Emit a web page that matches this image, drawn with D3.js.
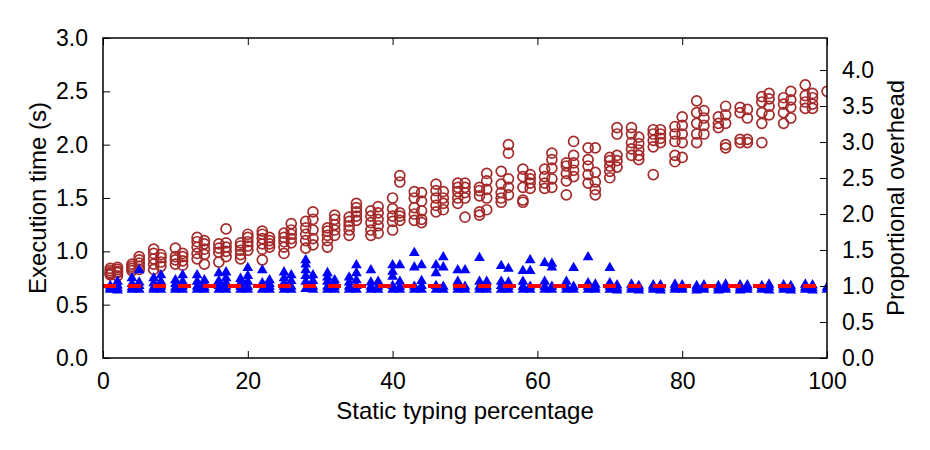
<!DOCTYPE html>
<html>
<head>
<meta charset="utf-8">
<script src="https://cdn.jsdelivr.net/npm/d3@7"></script>
<style>
  body { margin: 0; background: #fff; }
  text { font-family: "Liberation Sans", Arial, sans-serif; fill: #000; }
</style>
</head>
<body>
<div id="chart"></div>
<script>

//static typing percentages (one column of runs each)
var percents = [1,2,4,5,7,8,10,11,13,14,16,17,19,20,22,23,25,26,28,29,31,32,34,35,37,38,40,41,43,44,46,47,49,50,52,53,55,56,58,59,61,62,64,65,67,68,70,71,73,74,76,77,79,80,82,83,85,86,88,89,91,92,94,95,97,98,100];

//execution time (s), circles
var execTimes = [
  [0.78,0.80,0.82,0.84,0.79],
  [0.77,0.80,0.83,0.85,0.81],
  [0.82,0.84,0.86,0.88],
  [0.83,0.86,0.89,0.92,0.95],
  [0.83,0.88,0.93,0.98,1.02],
  [0.86,0.90,0.94,0.97],
  [0.88,0.92,0.95,1.03],
  [0.87,0.91,0.95,0.98],
  [0.93,0.98,1.04,1.09,1.13],
  [0.88,0.97,1.02,1.07,1.10],
  [0.90,0.99,1.03,1.07],
  [0.95,1.00,1.04,1.08,1.21],
  [0.93,0.97,1.01,1.05,1.08],
  [1.01,1.05,1.09,1.13,1.16],
  [0.92,1.02,1.07,1.12,1.16,1.19],
  [1.04,1.07,1.10,1.13],
  [0.98,1.04,1.09,1.13,1.17],
  [1.08,1.12,1.16,1.20,1.26],
  [1.03,1.10,1.16,1.22,1.28],
  [1.06,1.12,1.20,1.30,1.37],
  [1.04,1.10,1.15,1.19,1.22],
  [1.15,1.20,1.25,1.30,1.34],
  [1.15,1.20,1.24,1.28,1.32],
  [1.29,1.33,1.37,1.41,1.45],
  [1.15,1.20,1.27,1.33,1.38],
  [1.17,1.24,1.30,1.36,1.42],
  [1.20,1.28,1.33,1.40,1.50],
  [1.29,1.33,1.36,1.65,1.71],
  [1.29,1.35,1.41,1.50,1.56],
  [1.27,1.30,1.38,1.47,1.55],
  [1.37,1.43,1.50,1.57,1.63],
  [1.39,1.45,1.50,1.56],
  [1.45,1.50,1.56,1.60,1.64],
  [1.32,1.50,1.55,1.60,1.64],
  [1.34,1.37,1.52,1.57,1.60],
  [1.39,1.50,1.58,1.66,1.73],
  [1.46,1.50,1.55,1.63,1.75],
  [1.53,1.60,1.68,1.92,2.00],
  [1.46,1.48,1.60,1.70,1.77],
  [1.59,1.64,1.68,1.72],
  [1.59,1.64,1.70,1.77],
  [1.60,1.68,1.78,1.86,1.92],
  [1.53,1.66,1.73,1.80,1.83],
  [1.70,1.76,1.83,1.90,2.03],
  [1.64,1.72,1.80,1.86,1.97],
  [1.53,1.58,1.65,1.74,1.97],
  [1.69,1.75,1.80,1.85,1.88],
  [1.79,1.85,1.90,2.10,2.16],
  [1.90,1.96,2.02,2.10,2.16],
  [1.86,1.90,1.95,2.01,2.07],
  [1.72,1.98,2.04,2.10,2.14],
  [2.02,2.06,2.10,2.14],
  [1.84,1.90,2.03,2.10,2.17],
  [1.88,2.02,2.10,2.18,2.26],
  [2.02,2.10,2.20,2.30,2.41],
  [2.10,2.18,2.25,2.32],
  [2.16,2.20,2.26],
  [1.97,2.00,2.20,2.28,2.36],
  [2.02,2.05,2.30,2.35],
  [2.02,2.05,2.25,2.33],
  [2.02,2.20,2.30,2.40,2.45],
  [2.28,2.36,2.43,2.48],
  [2.20,2.30,2.38,2.44],
  [2.25,2.35,2.42,2.50],
  [2.34,2.40,2.46,2.56],
  [2.34,2.38,2.44,2.48],
  [2.50]
];

//proportional overhead, triangles
var overheads = [
  [0.95,0.97,1.00],
  [0.94,0.97,1.01,1.06],
  [0.95,0.98,1.03,1.11],
  [0.95,1.00,1.05,1.22],
  [0.95,0.98,1.04,1.11],
  [0.95,0.99,1.06,1.15],
  [0.95,0.98,1.03,1.08],
  [0.95,0.99,1.06,1.15],
  [0.95,0.99,1.06,1.15],
  [0.95,0.98,1.03,1.08],
  [0.95,1.00,1.07,1.18],
  [0.95,0.99,1.04,1.11,1.19],
  [0.95,0.99,1.04,1.10],
  [0.95,0.99,1.06,1.14,1.25],
  [0.95,1.04,1.22],
  [0.95,0.99,1.03,1.08],
  [0.95,0.99,1.04,1.11,1.19],
  [0.95,0.99,1.07,1.15],
  [0.96,1.06,1.14,1.22,1.30,1.36],
  [0.95,0.99,1.07,1.15],
  [0.95,0.99,1.06,1.12,1.18],
  [0.95,0.99,1.04,1.08],
  [0.95,0.99,1.05,1.12],
  [0.95,1.00,1.08,1.18,1.29],
  [0.95,0.99,1.05,1.22],
  [0.95,0.99,1.06],
  [0.95,1.00,1.13,1.20,1.29],
  [0.95,0.99,1.06,1.29],
  [0.95,0.99,1.26,1.46],
  [0.95,1.00,1.07,1.29],
  [0.95,1.00,1.18,1.29],
  [0.95,0.99,1.26,1.40],
  [0.95,0.99,1.06,1.22],
  [0.95,0.99,1.22],
  [0.95,0.99,1.06,1.39],
  [0.95,0.99,1.06],
  [0.95,1.00,1.06,1.28],
  [0.95,0.99,1.05,1.24],
  [0.95,0.99,1.06,1.21],
  [0.95,0.99,1.21,1.36],
  [0.95,0.99,1.06,1.32],
  [0.95,0.99,1.26,1.31],
  [0.95,0.99,1.06],
  [0.95,0.99,1.25],
  [0.95,0.99,1.04,1.40],
  [0.95,0.98,1.02],
  [0.95,0.99,1.04,1.25],
  [0.94,0.97,1.01],
  [0.95,0.98,1.02],
  [0.94,0.97,1.00],
  [0.95,0.98,1.01],
  [0.94,0.97,1.01],
  [0.95,0.98,1.02],
  [0.95,0.98,1.01],
  [0.94,0.97,1.00],
  [0.95,0.98,1.01],
  [0.94,0.97,1.00],
  [0.95,0.98,1.02],
  [0.94,0.97,1.01],
  [0.95,0.98,1.01],
  [0.95,0.97,1.00],
  [0.94,0.98,1.02],
  [0.95,0.98,1.01],
  [0.94,0.97,1.00],
  [0.95,0.98,1.02],
  [0.94,0.97,1.01],
  [0.95,0.98]
];

//fully dynamic baseline time (s)
var baselineTime = 0.675;

//ticks
var xTicks = [0, 20, 40, 60, 80, 100];
var leftTicks = [0, 0.5, 1.0, 1.5, 2.0, 2.5, 3.0];
var rightTicks = [0, 0.5, 1.0, 1.5, 2.0, 2.5, 3.0, 3.5, 4.0];

(function () {

  //margins
  var margin = { top: 38, left: 103, right: 103, bottom: 92 },
      width = 930 - margin.left - margin.right,
      height = 450 - margin.top - margin.bottom;

  var svg = d3.select("#chart")
      .append("svg")
      .attr("width", 930)
      .attr("height", 450)
      .append("g")
      .attr("transform", "translate(" + margin.left + "," + margin.top + ")");

  //scales
  var xPositionScale = d3.scaleLinear().domain([0, 100]).range([0, width]);
  var yPositionScale = d3.scaleLinear().domain([0, 3]).range([height, 0]);
  var yRightScale = d3.scaleLinear().domain([0, 3 / baselineTime]).range([height, 0]);

  //flatten columns into points
  var circlePoints = [];
  percents.forEach(function (p, i) {
    execTimes[i].forEach(function (v) { circlePoints.push({ x: p, y: v }); });
  });
  var trianglePoints = [];
  percents.forEach(function (p, i) {
    overheads[i].forEach(function (v) { trianglePoints.push({ x: p, y: v }); });
  });

  svg.append("clipPath")
    .attr("id", "plotclip")
    .append("rect")
    .attr("width", width)
    .attr("height", height);

  var plot = svg.append("g").attr("clip-path", "url(#plotclip)");

  //circles
  plot.selectAll(".time")
    .data(circlePoints)
    .enter().append("circle")
    .attr("class", "time")
    .attr("r", 5)
    .attr("cx", function (d) { return xPositionScale(d.x); })
    .attr("cy", function (d) { return yPositionScale(d.y); })
    .attr("fill", "none")
    .attr("stroke", "#a52a2a")
    .attr("stroke-width", 1.7);

  //triangles
  var tri = d3.symbol().type(d3.symbolTriangle).size(50);
  plot.selectAll(".overhead")
    .data(trianglePoints)
    .enter().append("path")
    .attr("class", "overhead")
    .attr("d", tri)
    .attr("transform", function (d) {
      return "translate(" + xPositionScale(d.x) + "," + yRightScale(d.y) + ")";
    })
    .attr("fill", "#0000ff");

  //baseline dashed line
  plot.append("line")
    .attr("x1", xPositionScale(0))
    .attr("x2", xPositionScale(100))
    .attr("y1", yPositionScale(baselineTime))
    .attr("y2", yPositionScale(baselineTime))
    .attr("stroke", "#ff0000")
    .attr("stroke-width", 4)
    .attr("stroke-dasharray", "13,12");

  //axes, ticks inside like matplotlib classic
  var fmt = d3.format(".1f");
  svg.append("g")
    .attr("class", "axis")
    .call(d3.axisLeft(yPositionScale).tickValues(leftTicks).tickFormat(fmt).tickSizeInner(-7).tickSizeOuter(0).tickPadding(15));
  svg.append("g")
    .attr("class", "axis")
    .attr("transform", "translate(" + width + ",0)")
    .call(d3.axisRight(yRightScale).tickValues(rightTicks).tickFormat(fmt).tickSizeInner(-7).tickSizeOuter(0).tickPadding(15));
  svg.append("g")
    .attr("class", "axis")
    .attr("transform", "translate(0," + height + ")")
    .call(d3.axisBottom(xPositionScale).tickValues(xTicks).tickFormat(d3.format("d")).tickSizeInner(-7).tickSizeOuter(0).tickPadding(15));
  svg.append("g")
    .attr("class", "axis")
    .call(d3.axisTop(xPositionScale).tickValues(xTicks).tickFormat("").tickSizeInner(-7).tickSizeOuter(0));

  svg.selectAll(".axis text").style("font-size", "23px");
  svg.selectAll(".axis line").attr("stroke", "#000").attr("stroke-width", 1);
  svg.selectAll(".axis .domain").remove();

  //frame
  svg.append("rect")
    .attr("width", width)
    .attr("height", height)
    .attr("fill", "none")
    .attr("stroke", "#000")
    .attr("stroke-width", 1.5);

  //titles
  svg.append("text")
    .attr("x", width / 2)
    .attr("y", height + 61)
    .attr("text-anchor", "middle")
    .style("font-size", "24px")
    .text("Static typing percentage");

  svg.append("text")
    .attr("transform", "translate(" + (-57) + "," + (height / 2) + ") rotate(-90)")
    .attr("text-anchor", "middle")
    .style("font-size", "24px")
    .text("Execution time (s)");

  svg.append("text")
    .attr("transform", "translate(" + (width + 77) + "," + (height / 2) + ") rotate(-90)")
    .attr("text-anchor", "middle")
    .style("font-size", "24px")
    .text("Proportional overhead");

})()
</script>
</body>
</html>
